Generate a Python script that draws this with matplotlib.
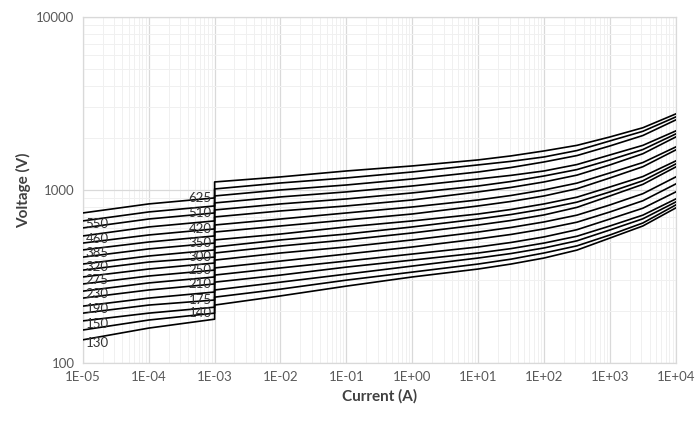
import matplotlib.pyplot as plt
from matplotlib.ticker import LogLocator, FixedLocator, NullFormatter

plt.rcParams['font.family'] = ['Lato', 'DejaVu Sans']

# varistor ratings, top curve first
ratings = [625, 550, 510, 460, 420, 385, 350, 320, 300, 275, 250, 230, 210, 190, 175, 150, 140, 130]

# low current part: 1E-05, 1E-04, 1E-03
current_low = [1e-5, 1e-4, 1e-3]
volts_low = [
    [736, 830, 899],
    [662, 746, 808],
    [603, 679, 736],
    [542, 611, 662],
    [493, 549, 595],
    [450, 500, 542],
    [409, 456, 493],
    [373, 415, 450],
    [344, 383, 409],
    [314, 349, 378],
    [286, 318, 344],
    [260, 290, 314],
    [237, 264, 286],
    [213, 237, 257],
    [194, 216, 231],
    [175, 194, 210],
    [155, 177, 194],
    [136, 159, 179],
]

# high current part: 1E-03 ... 1E+04
current_high = [1e-3, 1e-2, 1e-1, 1e0, 1e1, 31.6, 1e2, 316, 1e3, 3162, 1e4]
volts_high = [
    [1112, 1189, 1287, 1376, 1491, 1573, 1680, 1810, 2024, 2288, 2750],
    [1013, 1097, 1173, 1270, 1395, 1463, 1551, 1689, 1920, 2182, 2642],
    [923, 1000, 1068, 1157, 1270, 1348, 1451, 1580, 1796, 2063, 2539],
    [841, 911, 974, 1054, 1157, 1214, 1287, 1402, 1593, 1810, 2193],
    [766, 830, 887, 961, 1054, 1119, 1204, 1311, 1491, 1712, 2107],
    [698, 756, 808, 875, 974, 1034, 1112, 1218, 1395, 1619, 2024],
    [627, 679, 736, 797, 875, 929, 1000, 1095, 1254, 1440, 1772],
    [571, 619, 670, 726, 808, 858, 923, 1016, 1173, 1362, 1703],
    [514, 556, 611, 662, 726, 771, 830, 908, 1040, 1195, 1471],
    [468, 514, 556, 611, 679, 721, 776, 850, 974, 1130, 1413],
    [432, 474, 514, 564, 627, 666, 717, 793, 923, 1077, 1358],
    [393, 432, 468, 514, 571, 607, 653, 715, 819, 951, 1189],
    [354, 388, 426, 468, 521, 553, 595, 651, 746, 866, 1083],
    [322, 354, 388, 426, 468, 497, 535, 589, 679, 784, 974],
    [293, 322, 358, 393, 432, 458, 493, 540, 619, 715, 887],
    [264, 293, 326, 363, 404, 429, 462, 508, 587, 681, 852],
    [240, 267, 301, 335, 373, 398, 432, 475, 549, 644, 819],
    [216, 244, 278, 314, 349, 373, 404, 449, 527, 619, 787],
]

left_labels = [550, 460, 385, 320, 275, 230, 190, 150, 130]
mid_labels = [625, 510, 420, 350, 300, 250, 210, 175, 140]

x_ticks = [1e-5, 1e-4, 1e-3, 1e-2, 1e-1, 1e0, 1e1, 1e2, 1e3, 1e4]
x_tick_labels = ['1E-05', '1E-04', '1E-03', '1E-02', '1E-01', '1E+00', '1E+01', '1E+02', '1E+03', '1E+04']

fig = plt.figure(figsize=(6.96, 4.23), dpi=100)
ax = fig.add_axes([0.119, 0.142, 0.852, 0.818])

for i, r in enumerate(ratings):
    xs = current_low + current_high
    ys = volts_low[i] + volts_high[i]
    ax.plot(xs, ys, color='black', lw=1.2, zorder=3)
    if r in left_labels:
        ax.annotate(str(r), (current_low[0], volts_low[i][0]), xytext=(2, -2),
                    textcoords='offset points', ha='left', va='center',
                    fontsize=9.5, color='#333333', zorder=4)
    if r in mid_labels:
        ax.annotate(str(r), (current_low[-1], volts_low[i][-1]), xytext=(-2, 0),
                    textcoords='offset points', ha='right', va='center',
                    fontsize=9.5, color='#333333', zorder=4)

ax.set_xscale('log')
ax.set_yscale('log')
ax.set_xlim(1e-5, 1e4)
ax.set_ylim(100, 10000)

ax.xaxis.set_major_locator(FixedLocator(x_ticks))
ax.set_xticklabels(x_tick_labels)
ax.xaxis.set_minor_locator(LogLocator(base=10, subs=range(2, 10), numticks=20))
ax.xaxis.set_minor_formatter(NullFormatter())
ax.yaxis.set_major_locator(FixedLocator([100, 1000, 10000]))
ax.set_yticklabels(['100', '1000', '10000'])
ax.yaxis.set_minor_locator(LogLocator(base=10, subs=range(2, 10), numticks=20))
ax.yaxis.set_minor_formatter(NullFormatter())

ax.grid(True, which='major', color='#d9d9d9', lw=0.9)
ax.grid(True, which='minor', color='#f0f0f0', lw=0.7)
ax.tick_params(which='both', length=0, labelsize=9.5, colors='#595959', pad=6)
for s in ax.spines.values():
    s.set_color('#d9d9d9')
    s.set_linewidth(0.9)

ax.set_xlabel('Current (A)', fontsize=11, fontweight='bold', color='#404040')
ax.set_ylabel('Voltage (V)', fontsize=11, fontweight='bold', color='#404040')

fig.savefig('out.png', dpi=100)
